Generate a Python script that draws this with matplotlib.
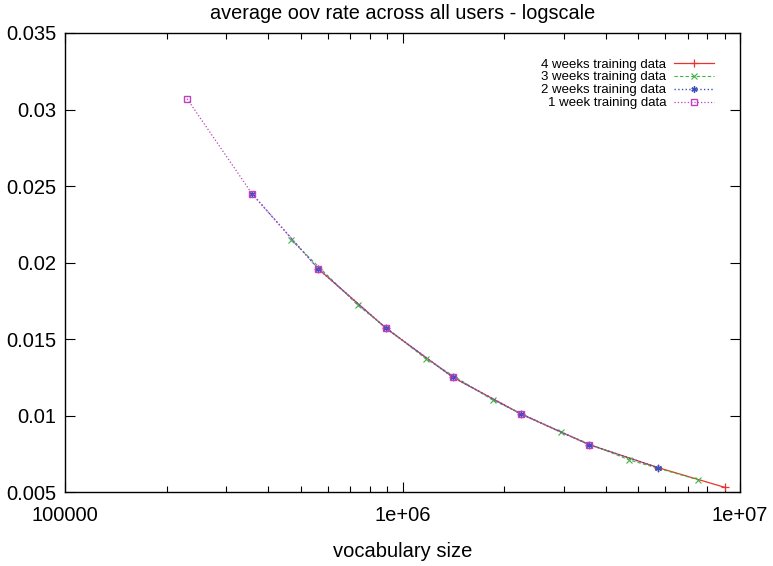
import matplotlib
matplotlib.use("Agg")
import matplotlib.pyplot as plt
from matplotlib.ticker import FixedLocator, FuncFormatter, LogLocator, NullFormatter

plt.rcParams["font.family"] = ["Liberation Sans", "DejaVu Sans"]

# vocabulary size vs. average oov rate, per amount of training data
vocab_4w = [5.62e5, 8.94e5, 1.411e6, 2.244e6, 3.57e6, 5.71e6, 9.03e6]
oov_4w = [0.0196, 0.0157, 0.0125, 0.0101, 0.0081, 0.0066, 0.0053]
vocab_3w = [4.67e5, 7.38e5, 1.174e6, 1.854e6, 2.949e6, 4.69e6, 7.51e6]
oov_3w = [0.0215, 0.0172, 0.0137, 0.0110, 0.0089, 0.0071, 0.0058]
vocab_2w = [3.58e5, 5.62e5, 8.94e5, 1.411e6, 2.244e6, 3.57e6, 5.71e6]
oov_2w = [0.0245, 0.0196, 0.0157, 0.0125, 0.0101, 0.0081, 0.0066]
vocab_1w = [2.30e5, 3.58e5, 5.62e5, 8.94e5, 1.411e6, 2.244e6, 3.57e6]
oov_1w = [0.0307, 0.0245, 0.0196, 0.0157, 0.0125, 0.0101, 0.0081]

x_ticks = [1e5, 1e6, 1e7]
x_ticklabels = ["100000", "1e+06", "1e+07"]
y_ticks = [0.005, 0.01, 0.015, 0.02, 0.025, 0.03, 0.035]

fig = plt.figure(figsize=(7.73, 5.66), dpi=100)
ax = fig.add_axes([0.0841, 0.1307, 0.8732, 0.811])

ax.plot(vocab_4w, oov_4w, "-", color="#e8332e", lw=0.9, marker="+", ms=6, mew=0.9,
        label="4 weeks training data")
ax.plot(vocab_3w, oov_3w, "--", color="#3fb53f", lw=0.8, marker="x", ms=4.5, mew=0.8,
        dashes=(3, 2), label="3 weeks training data")
ax.plot(vocab_2w, oov_2w, ":", color="#3a4fc0", lw=1.0, marker=(6, 2, 0), ms=5, mew=1.0,
        label="2 weeks training data")
ax.plot(vocab_1w, oov_1w, ":", color="#c040c0", lw=0.9, marker="s", ms=4.5, mew=1.0,
        mfc="none", label="1 week training data")

ax.set_xscale("log")
ax.set_xlim(1e5, 1e7)
ax.set_ylim(0.005, 0.035)
ax.xaxis.set_major_locator(FixedLocator(x_ticks))
ax.xaxis.set_major_formatter(FuncFormatter(lambda v, p: x_ticklabels[x_ticks.index(v)] if v in x_ticks else ""))
ax.xaxis.set_minor_locator(LogLocator(base=10, subs=range(2, 10)))
ax.xaxis.set_minor_formatter(NullFormatter())
ax.yaxis.set_major_locator(FixedLocator(y_ticks))
ax.yaxis.set_major_formatter(FuncFormatter(lambda v, p: f"{v:g}"))

ax.tick_params(which="both", direction="in", top=True, right=True, labelsize=14.5, width=0.8)
ax.tick_params(which="major", length=7)
ax.tick_params(which="minor", length=4)
ax.tick_params(axis="x", which="major", pad=10)
ax.tick_params(axis="y", which="major", pad=6)
for s in ax.spines.values():
    s.set_linewidth(1.0)

ax.set_title("average oov rate across all users - logscale", fontsize=14.3, pad=10)
ax.set_xlabel("vocabulary size", fontsize=14.5, labelpad=12)

leg = ax.legend(loc="upper right", bbox_to_anchor=(0.975, 0.965), frameon=False,
                markerfirst=False, fontsize=9.5, handlelength=3.0, labelspacing=0.05,
                handletextpad=0.6, borderpad=0.2, markerscale=0.9)

fig.savefig("out.png", dpi=100)
